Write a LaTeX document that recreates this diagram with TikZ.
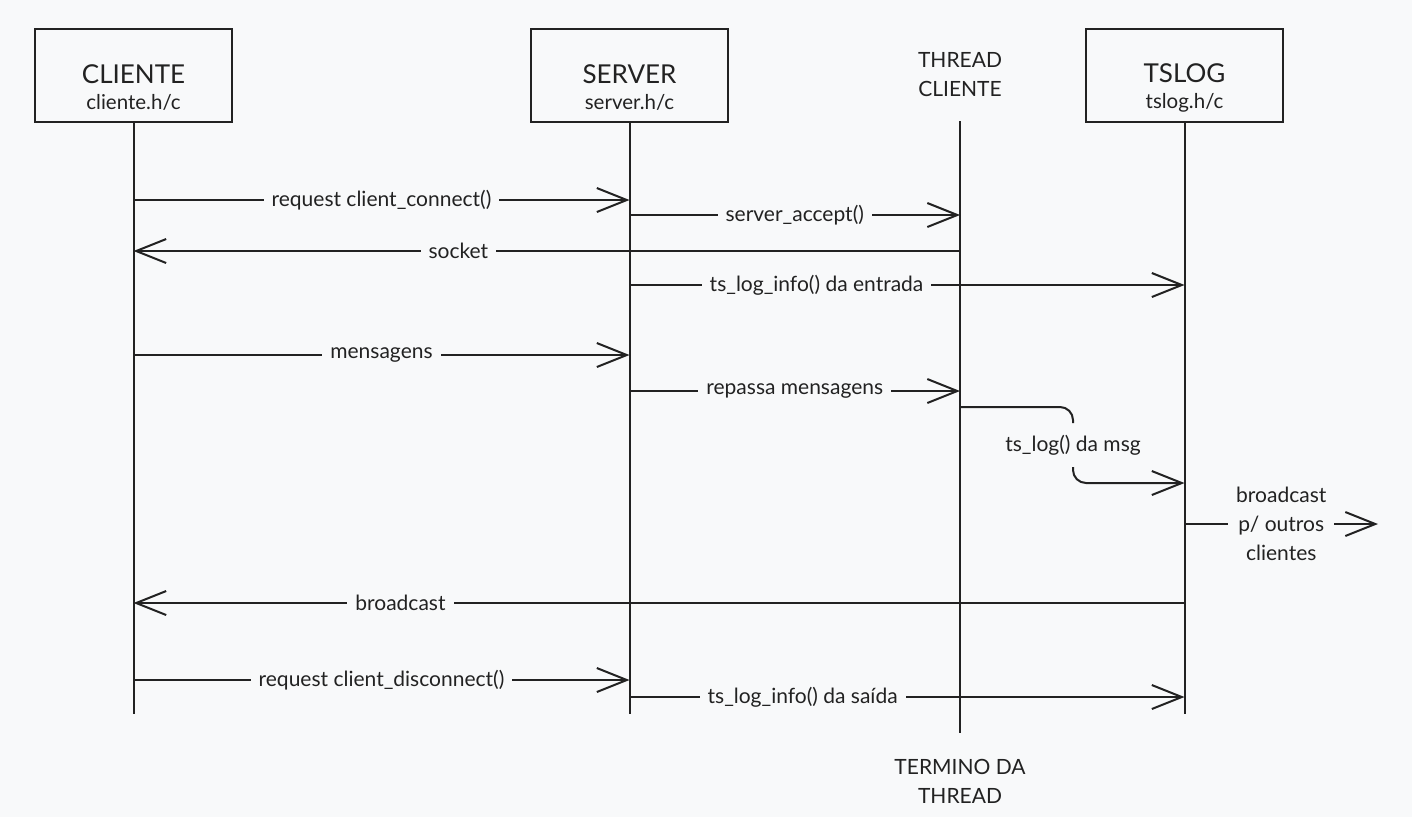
\documentclass[tikz,border=0pt]{standalone}
\usepackage{fontspec}
\setmainfont{Lato}
\usetikzlibrary{arrows.meta}

\definecolor{bgcol}{RGB}{248,249,250}
\definecolor{ink}{RGB}{34,34,34}

\tikzset{
  lifebox/.style={draw=ink, line width=2.5pt, fill=bgcol, minimum width=197pt, minimum height=93pt, inner sep=0pt},
  boxtitle/.style={align=center, text=ink, font=\fontsize{26}{26}\selectfont, inner sep=0pt},
  plaintext/.style={align=center, text=ink, font=\fontsize{21}{29}\selectfont, inner sep=0pt},
  lifeline/.style={draw=ink, line width=2pt},
  plainline/.style={draw=ink, line width=2pt},
  msg/.style={plainline, -{Straight Barb[length=30pt, width=24pt]}},
  msglabel/.style={fill=bgcol, text=ink, font=\fontsize{21}{25}\selectfont, inner xsep=8pt, inner ysep=2pt},
}

\begin{document}
\begin{tikzpicture}[x=1pt, y=-1pt]
    % Background
    \fill[bgcol] (0,0) rectangle (1412,817);
    \useasboundingbox (0,0) rectangle (1412,817);

    % Participants
    \node[lifebox] (cliente) at (133.5,75.5) {};
    \node[boxtitle] (clientetxt) at (133.5,88) {CLIENTE\\{\fontsize{20.5}{22}\selectfont cliente.h/c}};
    \node[lifebox] (server) at (629.5,75.5) {};
    \node[boxtitle] (servertxt) at (629.5,88) {SERVER\\{\fontsize{20.5}{22}\selectfont server.h/c}};
    \node[lifebox] (tslog) at (1184.5,75.5) {};
    \node[boxtitle] (tslogtxt) at (1184.5,88) {TSLOG\\{\fontsize{20.5}{22}\selectfont tslog.h/c}};
    \node[plaintext] (thread) at (960,75) {THREAD\\CLIENTE};
    \node[plaintext] (termino) at (960,781) {TERMINO DA\\THREAD};

    % Lifelines
    \coordinate (threadtop) at (960,121);
    \coordinate (threadend) at (960,733);
    \draw[lifeline] (cliente.south) -- (cliente.south |- 0,714);
    \draw[lifeline] (server.south) -- (server.south |- 0,714);
    \draw[lifeline] (tslog.south) -- (tslog.south |- 0,714);
    \draw[lifeline] (threadtop) -- (threadend);

    % Connection
    \draw[msg] (cliente |- 0,200) -- node[msglabel] {request client\_connect()} (server |- 0,200);
    \draw[msg] (server |- 0,215) -- node[msglabel] {server\_accept()} (threadtop |- 0,215);
    \draw[msg] (threadtop |- 0,251) -- node[msglabel, pos=0.607] {socket} (cliente |- 0,251);
    \draw[msg] (server |- 0,285) -- node[msglabel, pos=0.337] {ts\_log\_info() da entrada} (tslog |- 0,285);

    % Messages
    \draw[msg] (cliente |- 0,355) -- node[msglabel] {mensagens} (server |- 0,355);
    \draw[msg] (server |- 0,391) -- node[msglabel] {repassa mensagens} (threadtop |- 0,391);
    \node[msglabel, fill=none] (logmsg) at (1073,445) {ts\_log() da msg};
    \draw[plainline, rounded corners=13pt] (threadtop |- 0,407) -| (1073,423);
    \draw[msg, rounded corners=13pt] (1073,467) |- (tslog |- 0,483);
    \coordinate (outros) at (1378,524);
    \draw[msg] (tslog |- 0,524) -- node[msglabel, align=center, font=\fontsize{21}{29}\selectfont, pos=0.5] {broadcast\\p/ outros\\clientes} (outros);
    \draw[msg] (tslog |- 0,603) -- node[msglabel, pos=0.746] {broadcast} (cliente |- 0,603);

    % Disconnection
    \draw[msg] (cliente |- 0,680) -- node[msglabel] {request client\_disconnect()} (server |- 0,680);
    \draw[msg] (server |- 0,697) -- node[msglabel, pos=0.312] {ts\_log\_info() da saída} (tslog |- 0,697);
\end{tikzpicture}
\end{document}
